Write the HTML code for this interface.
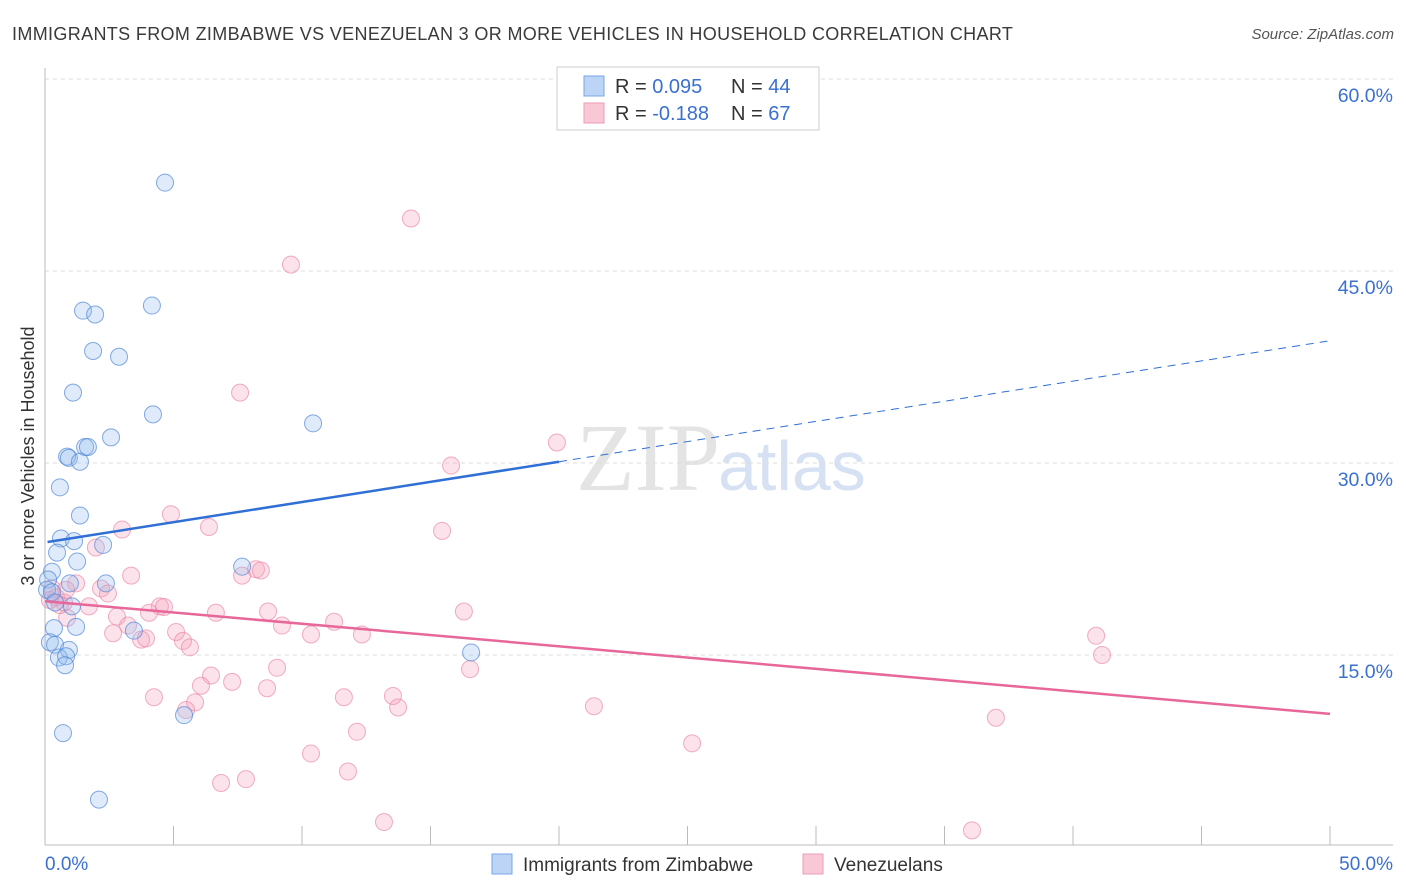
<!DOCTYPE html>
<html><head><meta charset="utf-8"><style>
body{margin:0;background:#fff;font-family:"Liberation Sans",sans-serif;}
svg{display:block}
</style></head><body>
<svg id="c" width="1406" height="892" xmlns="http://www.w3.org/2000/svg">
<text x="12" y="40" font-size="18" fill="#3a3a3a" letter-spacing="0.35">IMMIGRANTS FROM ZIMBABWE VS VENEZUELAN 3 OR MORE VEHICLES IN HOUSEHOLD CORRELATION CHART</text>
<text x="1394" y="39" font-size="15" fill="#555" font-style="italic" text-anchor="end">Source: ZipAtlas.com</text>
<text x="34" y="456" font-size="18" fill="#333" text-anchor="middle" transform="rotate(-90 34 456)">3 or more Vehicles in Household</text>
<text x="720" y="490" font-size="96" fill="#e4e4e4" text-anchor="end" font-family="Liberation Serif,serif">ZIP</text>
<text x="718" y="490" font-size="70" fill="#d6e2f3">atlas</text>
<g id="grid"></g><g id="pts"></g><g id="lines"></g>
<g>
<rect x="557" y="67" width="262" height="63" fill="#fff" stroke="#ccc"/>
<rect x="584" y="76" width="20" height="20" fill="#bcd4f5" stroke="#7aa6e6"/>
<rect x="584" y="103" width="20" height="20" fill="#f8c8d6" stroke="#ee9bb4"/>
<text x="615" y="93" font-size="20" fill="#333">R = <tspan fill="#3a70d0">0.095</tspan></text>
<text x="731" y="93" font-size="20" fill="#333">N = <tspan fill="#3a70d0">44</tspan></text>
<text x="615" y="120" font-size="20" fill="#333">R = <tspan fill="#3a70d0">-0.188</tspan></text>
<text x="731" y="120" font-size="20" fill="#333">N = <tspan fill="#3a70d0">67</tspan></text>
</g>
<g>
<rect x="492" y="854" width="20" height="20" fill="#bcd4f5" stroke="#7aa6e6"/>
<text x="523" y="871" font-size="19" fill="#333">Immigrants from Zimbabwe</text>
<rect x="803" y="854" width="20" height="20" fill="#f8c8d6" stroke="#ee9bb4"/>
<text x="834" y="871" font-size="19" fill="#333">Venezuelans</text>
</g>
</svg>
<script>
const blueX=[4.67,4.16,1.48,1.95,1.87,2.88,1.09,4.2,10.43,2.57,1.56,1.67,0.86,0.93,1.36,0.58,1.36,0.62,1.13,2.26,0.47,1.25,0.27,0.12,0.97,2.37,7.67,0.08,0.27,0.39,1.05,0.35,1.21,3.46,0.19,0.39,0.93,0.54,0.82,0.78,16.58,5.41,0.7,2.1];
const blueY=[51.9,42.3,41.9,41.6,38.75,38.3,35.5,33.8,33.1,32.0,31.25,31.25,30.5,30.4,30.1,28.1,25.9,24.1,23.9,23.6,23.0,22.3,21.5,20.9,20.6,20.6,21.9,20.1,19.9,19.1,18.8,17.1,17.2,16.9,16.0,15.8,15.4,14.8,14.9,14.2,15.2,10.3,8.9,3.7];
const pinkX=[14.24,9.57,7.59,19.92,15.8,4.9,6.38,15.45,3.0,1.98,0.27,3.35,7.67,8.21,8.4,1.21,2.18,2.45,0.43,0.74,1.71,4.47,4.63,6.65,8.68,16.3,0.86,2.8,4.05,3.23,9.22,11.25,5.1,10.35,12.33,2.65,3.74,3.93,5.37,5.64,40.9,41.13,6.46,9.03,16.54,7.28,6.07,8.64,4.24,11.63,13.54,13.74,5.84,5.49,21.36,37.0,12.14,10.35,25.18,11.79,7.82,6.85,13.19,36.07,0.58,0.19,0.82];
const pinkY=[49.1,45.5,35.5,31.6,29.8,26.0,25.0,24.7,24.8,23.4,20.2,21.2,21.2,21.7,21.6,20.6,20.2,19.8,19.5,19.1,18.8,18.8,18.75,18.3,18.4,18.4,17.9,18.0,18.3,17.3,17.3,17.6,16.8,16.6,16.6,16.7,16.2,16.3,16.1,15.6,16.5,15.0,13.4,14.0,13.9,12.9,12.6,12.4,11.7,11.7,11.8,10.9,11.3,10.7,11.0,10.1,9.0,7.3,8.1,5.9,5.3,5.0,1.95,1.3,18.9,19.3,20.1];
const yTicks=[15,30,45,60];
const yTickLabels=["15.0%","30.0%","45.0%","60.0%"];
const xTicks=[0,5,10,15,20,25,30,35,40,45,50];
const blueTrend=[23.8,0.315];
const pinkTrend=[19.2,-0.176];
const NS="http://www.w3.org/2000/svg";
const sx=v=>45+v*25.7, sy=v=>847-v*12.8;
function mk(tag,attrs,parent){const e=document.createElementNS(NS,tag);for(const k in attrs)e.setAttribute(k,attrs[k]);parent.appendChild(e);return e;}
const g=document.getElementById('grid');
yTicks.forEach((t,i)=>{
 const l=mk('line',{x1:45,x2:1393,y1:sy(t),y2:sy(t),stroke:'#ddd','stroke-dasharray':'4,4'},g);
 
 
 const tx=mk('text',{x:1393,y:sy(t)+23,'font-size':19.5,fill:'#3a70d0','text-anchor':'end'},g);
 tx.textContent=yTickLabels[i];
 
 
});
const ax=mk('line',{x1:45,x2:45,y1:68,y2:845,stroke:'#bbb'},g);


const bx=mk('line',{x1:45,x2:1393,y1:845,y2:845,stroke:'#bbb'},g);


xTicks.forEach(t=>{const l=mk('line',{x1:sx(t),x2:sx(t),y1:826,y2:845,stroke:'#bbb'},g);
 
 });
const x0=mk('text',{x:45,y:870,'font-size':19,fill:'#3a70d0'},g);x0.textContent="0.0%";


const x1=mk('text',{x:1393,y:870,'font-size':19,fill:'#3a70d0','text-anchor':'end'},g);x1.textContent="50.0%";


const p=document.getElementById('pts');
pinkX.forEach((x,i)=>{const c=mk('circle',{cx:sx(x),cy:sy(pinkY[i]),r:8.5,fill:'rgba(244,160,186,0.3)',stroke:'rgba(235,140,170,0.7)','stroke-width':1},p);
 
 });
blueX.forEach((x,i)=>{const c=mk('circle',{cx:sx(x),cy:sy(blueY[i]),r:8.5,fill:'rgba(150,190,240,0.3)',stroke:'rgba(80,135,215,0.7)','stroke-width':1},p);
 
 });
const L=document.getElementById('lines');
const bt=v=>blueTrend[0]+blueTrend[1]*v, pt=v=>pinkTrend[0]+pinkTrend[1]*v;
let a=mk('line',{x1:sx(0.1),y1:sy(bt(0.1)),x2:sx(20),y2:sy(bt(20)),stroke:'#2f6fd6','stroke-width':2.5},L);


a=mk('line',{x1:sx(20),y1:sy(bt(20)),x2:sx(49.9),y2:sy(bt(49.9)),stroke:'#2f6fd6','stroke-width':1,'stroke-dasharray':'8,6'},L);


a=mk('line',{x1:sx(0),y1:sy(pt(0)),x2:sx(50),y2:sy(pt(50)),stroke:'#e8679a','stroke-width':2.5},L);


</script>
</body></html>
